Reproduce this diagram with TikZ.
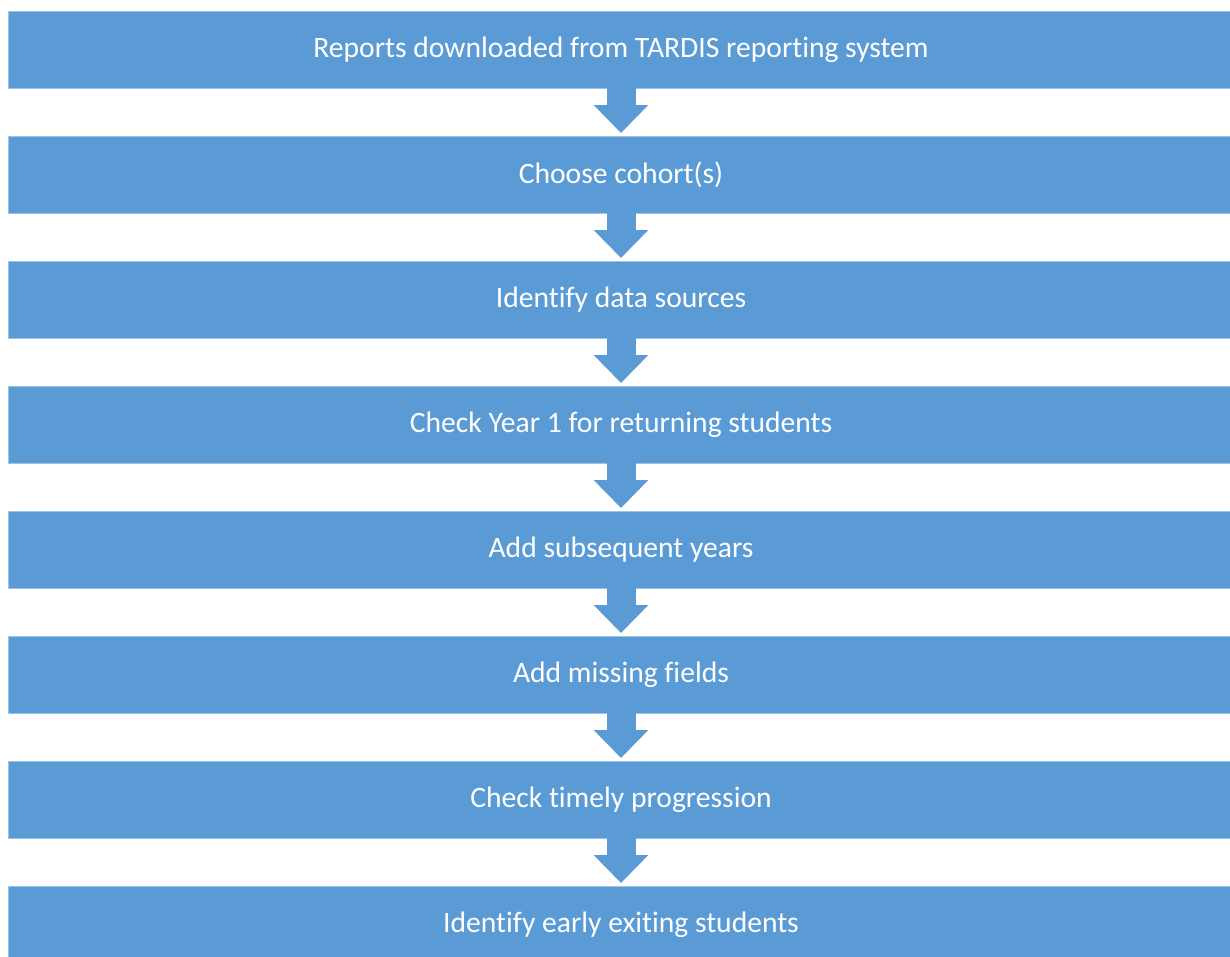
\documentclass[tikz,border=0pt]{standalone}
\usepackage{fontspec}
\setmainfont[Ligatures=NoCommon]{Carlito}
\usepackage{xcolor}
\usepackage{tikz}
\usetikzlibrary{positioning, arrows.meta}
\definecolor{stageblue}{RGB}{91,155,213}

\begin{document}
\begin{tikzpicture}[x=1pt,y=-1pt,node distance=48pt,
                    stage box/.style={rectangle,fill=stageblue,draw=stageblue!60!white,line width=0.6pt,
                                      minimum width=1226pt,minimum height=77pt,inner sep=0pt,outer sep=0pt,
                                      text=white,font=\fontsize{29.6}{34}\selectfont},
                    flow arrow/.style={stageblue,line width=29pt,
                                       -{Triangle[length=28pt 0,width=53pt 0]},shorten >=3pt}]
\clip (0,0) rectangle (1230,956);
\fill[white] (0,0) rectangle (1230,956);

\node[stage box] (box1) at (621,49.5) {Reports downloaded from TARDIS reporting system};
\node[stage box,below=of box1] (box2) {Choose cohort(s)};
\node[stage box,below=of box2] (box3) {Identify data sources};
\node[stage box,below=of box3] (box4) {Check Year 1 for returning students};
\node[stage box,below=of box4] (box5) {Add subsequent years};
\node[stage box,below=of box5] (box6) {Add missing fields};
\node[stage box,below=of box6] (box7) {Check timely progression};
\node[stage box,below=of box7] (box8) {Identify early exiting students};

\foreach \a/\b in {1/2,2/3,3/4,4/5,5/6,6/7,7/8}
   \draw[flow arrow] (box\a.south) -- (box\b.north);
\end{tikzpicture}
\end{document}
